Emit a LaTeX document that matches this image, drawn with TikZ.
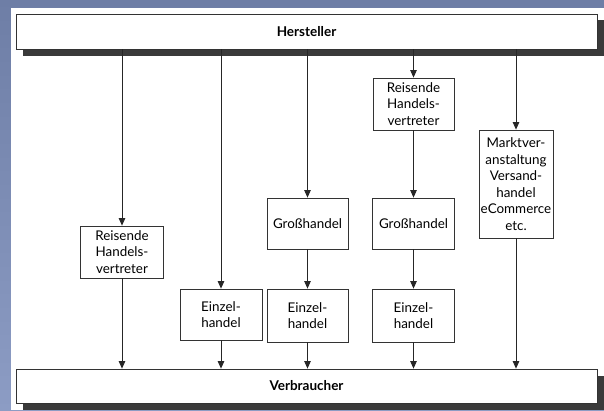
\documentclass[tikz,border=0pt]{standalone}
\usepackage{fontspec}
\setmainfont{Lato}
\usetikzlibrary{arrows.meta}
\definecolor{bgA}{HTML}{6E7EA6}
\definecolor{bgB}{HTML}{8C9CC4}
\definecolor{shadowc}{HTML}{3A3A3A}
\tikzset{
  box/.style={draw=black!80, line width=0.8pt, fill=white, align=center, inner sep=0pt,
    font=\fontsize{13.4}{16.5}\selectfont},
  bar/.style={box, font=\fontsize{13.5}{15}\selectfont\bfseries},
  flow/.style={draw=black!85, line width=0.8pt, -{Triangle[width=6.5pt,length=7.5pt]}}
}
\begin{document}
\begin{tikzpicture}[x=1pt,y=-1pt]
\useasboundingbox (0,0) rectangle (604,410);
\shade[top color=bgA, bottom color=bgB] (0,0) rectangle (604,410);
\fill[white] (11,8) rectangle (604,410);
% shadows
\fill[shadowc] (23,20) rectangle (604,56);
\fill[shadowc] (23,376) rectangle (604,410);
% bars
\node[bar, minimum width=581pt, minimum height=35pt] (H) at (306.5,31.5) {Hersteller};
\node[bar, minimum width=581pt, minimum height=34pt] (V) at (306.5,386) {Verbraucher};
% column 1
\node[box, minimum width=83pt, minimum height=52pt] (R1) at (122,252) {Reisende\\Handels-\\vertreter};
% column 2
\node[box, minimum width=82pt, minimum height=51pt] (E1) at (221,314.5) {Einzel-\\handel};
% column 3
\node[box, minimum width=81pt, minimum height=51pt] (G1) at (307.5,223.5) {Großhandel};
\node[box, minimum width=81pt, minimum height=53pt] (E2) at (307.5,315.5) {Einzel-\\handel};
% column 4
\node[box, minimum width=81pt, minimum height=52pt] (R2) at (413.5,104) {Reisende\\Handels-\\vertreter};
\node[box, minimum width=82pt, minimum height=51pt] (G2) at (413.5,223.5) {Großhandel};
\node[box, minimum width=82pt, minimum height=53pt] (E3) at (413.5,315.5) {Einzel-\\handel};
% column 5
\node[box, minimum width=74pt, minimum height=108pt] (M) at (516,184) {Marktver-\\anstaltung\\Versand-\\handel\\eCommerce\\etc.};
% connectors
\draw[flow] (H.south -| R1.north) -- (R1.north);
\draw[flow] (R1.south) -- (V.north -| R1.south);
\draw[flow] (H.south -| E1.north) -- (E1.north);
\draw[flow] (E1.south) -- (V.north -| E1.south);
\draw[flow] (H.south -| G1.north) -- (G1.north);
\draw[flow] (G1.south) -- (E2.north);
\draw[flow] (E2.south) -- (V.north -| E2.south);
\draw[flow] (H.south -| R2.north) -- (R2.north);
\draw[flow] (R2.south) -- (G2.north);
\draw[flow] (G2.south) -- (E3.north);
\draw[flow] (E3.south) -- (V.north -| E3.south);
\draw[flow] (H.south -| M.north) -- (M.north);
\draw[flow] (M.south) -- (V.north -| M.south);
\end{tikzpicture}
\end{document}
